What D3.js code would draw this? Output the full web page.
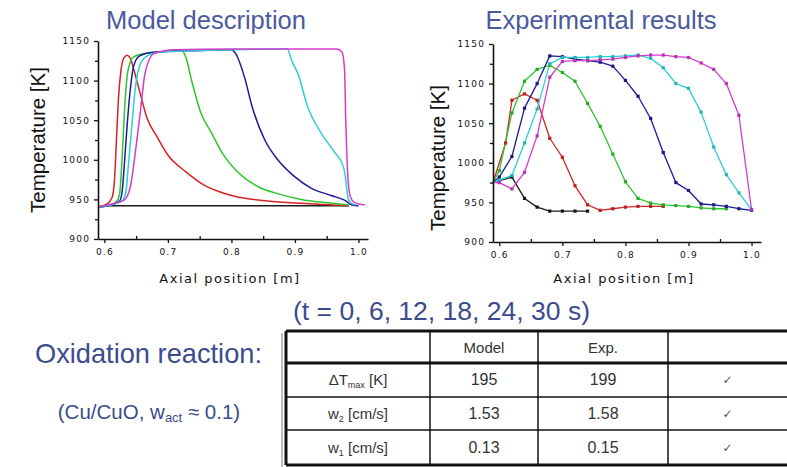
<!DOCTYPE html>
<html><head><meta charset="utf-8">
<script src="https://cdn.jsdelivr.net/npm/d3@7"></script>
<style>body{margin:0;background:#fff} svg{display:block}</style>
</head><body><svg id="c" width="787" height="467"></svg>
<script>
// ---------- DATA ----------
const times = [0, 6, 12, 18, 24, 30];
const seriesColors = ["#1a1a1a", "#d42424", "#2fc52f", "#1c1c96", "#2ccfd8", "#d23ccb"];
const xTicks = [0.6, 0.7, 0.8, 0.9, 1.0];
const xMinor = [0.65, 0.75, 0.85, 0.95];
const yTicks = [900, 950, 1000, 1050, 1100, 1150];
const yMinor = [925, 975, 1025, 1075, 1125];

// Model description (axial position [m], temperature [K])
const modelT0 = [[0.59,940.5],[0.61,942],[0.985,942]];
const modelT6 = [[0.59,940.5],[0.604,944],[0.612,952],[0.616,975],[0.619,1024],[0.622,1075],[0.626,1112],[0.631,1129],[0.636,1132],[0.641,1128],[0.646,1115],[0.657,1082],[0.667,1053],[0.683,1029],[0.70,1006],[0.728,985],[0.755,969],[0.78,960],[0.805,954],[0.857,948],[0.91,945],[0.96,943],[0.985,942]];
const modelT12 = [[0.59,940.5],[0.61,943],[0.62,948],[0.624,957],[0.628,1003],[0.632,1066],[0.637,1112],[0.646,1130],[0.662,1134],[0.70,1137],[0.722,1138],[0.728,1130],[0.738,1098],[0.752,1059],[0.768,1035],[0.786,1008],[0.812,983],[0.842,966],[0.874,957],[0.91,950],[0.947,946],[0.985,943]];
const modelT18 = [[0.59,940.5],[0.61,943],[0.624,948],[0.628,960],[0.632,1000],[0.636,1045],[0.641,1090],[0.646,1118],[0.655,1131],[0.68,1136],[0.75,1138],[0.80,1139],[0.806,1135],[0.82,1106],[0.833,1066],[0.852,1026],[0.873,1000],[0.899,979],[0.926,964],[0.957,955],[0.978,949],[0.99,943],[1.0,942]];
const modelT24 = [[0.59,940.5],[0.61,943],[0.628,948],[0.634,960],[0.638,995],[0.643,1040],[0.648,1085],[0.654,1115],[0.665,1130],[0.69,1136],[0.80,1139],[0.888,1140],[0.895,1125],[0.905,1108],[0.92,1067],[0.941,1034],[0.963,1009],[0.976,992],[0.98,975],[0.983,954],[0.987,946],[0.995,943]];
const modelT30 = [[0.59,940.5],[0.61,944],[0.631,949],[0.641,966],[0.649,1011],[0.657,1063],[0.664,1109],[0.678,1134],[0.71,1139],[0.80,1140],[0.966,1140],[0.974,1136],[0.978,1115],[0.98,1050],[0.983,983],[0.987,954],[0.994,946],[1.01,943]];

// Experimental results
const expT0 = [[0.59,975],[0.62,982],[0.64,955],[0.66,944],[0.68,939],[0.70,939],[0.72,939],[0.74,939]];
const expT6 = [[0.59,975],[0.61,1025],[0.62,1079],[0.64,1087],[0.66,1079],[0.68,1031],[0.70,1007],[0.72,971],[0.74,947],[0.76,940],[0.78,942],[0.80,944],[0.82,945],[0.84,945],[0.86,945]];
const expT12 = [[0.59,975],[0.60,990],[0.62,1063],[0.64,1103],[0.66,1118],[0.68,1123],[0.70,1114],[0.72,1103],[0.74,1075],[0.76,1046],[0.78,1011],[0.80,976],[0.82,955],[0.84,949],[0.86,947],[0.88,946],[0.90,945],[0.92,943],[0.94,942],[0.96,942]];
const expT18 = [[0.59,975],[0.60,982],[0.62,1008],[0.64,1069],[0.66,1100],[0.68,1135],[0.70,1134],[0.72,1131],[0.74,1129],[0.76,1127],[0.78,1122],[0.80,1104],[0.82,1084],[0.84,1056],[0.86,1013],[0.88,975],[0.90,965],[0.92,948],[0.94,947],[0.96,945],[0.98,942],[1.00,940]];
const expT24 = [[0.59,975],[0.60,978],[0.62,984],[0.64,1025],[0.66,1068],[0.68,1125],[0.70,1133],[0.72,1133],[0.74,1133],[0.76,1134],[0.78,1134],[0.80,1135],[0.82,1136],[0.84,1132],[0.86,1120],[0.88,1100],[0.90,1094],[0.92,1064],[0.94,1020],[0.96,985],[0.98,962],[1.00,941]];
const expT30 = [[0.59,975],[0.60,975],[0.62,967],[0.64,988],[0.66,1034],[0.68,1108],[0.70,1128],[0.72,1129],[0.74,1129],[0.76,1130],[0.78,1131],[0.80,1133],[0.82,1135],[0.84,1136],[0.86,1136],[0.88,1134],[0.90,1133],[0.92,1126],[0.94,1118],[0.96,1100],[0.98,1060],[1.00,941]];

// Table
const tableHeaders = ["", "Model", "Exp.", ""];
const rowLabels = [["ΔT","max"," [K]"], ["w","2"," [cm/s]"], ["w","1"," [cm/s]"]];
const modelValues = ["195", "1.53", "0.13"];
const expValues = ["199", "1.58", "0.15"];
const agreement = ["✓", "✓", "✓"];

// ---------- DRAW ----------
const svg = d3.select("#c");
const modelSeries = [modelT0, modelT6, modelT12, modelT18, modelT24, modelT30];
const expSeries = [expT0, expT6, expT12, expT18, expT24, expT30];

function drawPanel(cfg) {
  const x = d3.scaleLinear().domain([0.59, 1.015]).range([cfg.x0, cfg.x1]);
  const y = d3.scaleLinear().domain([900, 1150]).range([cfg.y0, cfg.y1]);
  const g = svg.append("g");

  // title
  g.append("text").attr("x", cfg.titleX).attr("y", 29).attr("text-anchor", "middle")
    .attr("font-family", "Liberation Sans, Arial, sans-serif").attr("font-size", 25.5)
    .attr("fill", "#4a5a9e").text(cfg.title);

  // lines
  const line = d3.line().x(d => x(d[0])).y(d => y(d[1]))
    .curve(cfg.smooth ? d3.curveMonotoneX : d3.curveLinear);
  cfg.series.forEach((s, i) => {
    g.append("path").datum(s).attr("d", line).attr("fill", "none")
      .attr("stroke", seriesColors[i]).attr("stroke-width", cfg.smooth ? 1.5 : 1.3)
      .attr("stroke-linejoin", "round");
  });
  if (!cfg.smooth) {
    cfg.series.forEach((s, i) => {
      g.append("g").selectAll("rect").data(s.slice(1)).join("rect")
        .attr("x", d => x(d[0]) - 1.6).attr("y", d => y(d[1]) - 1.6)
        .attr("width", 3.2).attr("height", 3.2).attr("fill", d3.color(seriesColors[i]).darker(0.4));
    });
  }

  // axes
  const ax = g.append("g").attr("transform", `translate(0,${cfg.y0})`)
    .call(d3.axisBottom(x).tickValues(xTicks).tickSize(4).tickSizeOuter(0).tickFormat(d3.format(".1f")));
  g.append("g").attr("transform", `translate(0,${cfg.y0})`)
    .call(d3.axisTop(x).tickValues(xMinor).tickSize(3).tickSizeOuter(0).tickFormat(""))
    .select(".domain").remove();
  const ay = g.append("g").attr("transform", `translate(${cfg.x0},0)`)
    .call(d3.axisLeft(y).tickValues(yTicks).tickSize(4).tickSizeOuter(0).tickFormat(d3.format("d")));
  g.append("g").attr("transform", `translate(${cfg.x0},0)`)
    .call(d3.axisLeft(y).tickValues(yMinor).tickSize(3).tickSizeOuter(0).tickFormat(""))
    .select(".domain").remove();
  g.selectAll(".domain").attr("stroke", "#111").attr("stroke-width", 1.6);
  g.selectAll(".tick line").attr("stroke", "#111").attr("stroke-width", 1.3);
  [ax, ay].forEach(a => a.selectAll("text")
    .attr("font-family", "DejaVu Sans, Verdana, sans-serif").attr("font-size", 9)
    .attr("letter-spacing", "1.2px").attr("fill", "#111"));
  ax.selectAll("text").attr("dy", "1.05em");
  ay.selectAll("text").attr("dx", "-0.1em");

  // axis titles
  g.append("text").attr("x", cfg.xLabelX).attr("y", 283).attr("text-anchor", "middle")
    .attr("font-family", "DejaVu Sans, Verdana, sans-serif").attr("font-size", 13)
    .attr("letter-spacing", "1.5px").attr("fill", "#111").text("Axial position [m]");
  g.append("text").attr("transform", `translate(${cfg.yLabelX},${cfg.yLabelY}) rotate(-90)`)
    .attr("text-anchor", "middle").attr("dominant-baseline", "central")
    .attr("font-family", "Liberation Sans, Arial, sans-serif").attr("font-size", 20.5)
    .attr("fill", "#111").text("Temperature [K]");
}

drawPanel({x0: 98, x1: 368, y0: 239, y1: 41, series: modelSeries, smooth: true,
  title: "Model description", titleX: 206, xLabelX: 230, yLabelX: 37, yLabelY: 140});
drawPanel({x0: 493, x1: 761, y0: 242, y1: 44, series: expSeries, smooth: false,
  title: "Experimental results", titleX: 601, xLabelX: 624, yLabelX: 437, yLabelY: 158});

// bottom texts
const blue = "#3c4b8e";
svg.append("text").attr("x", 293).attr("y", 320)
  .attr("font-family", "Liberation Sans, Arial, sans-serif").attr("font-size", 25)
  .attr("textLength", 297).attr("lengthAdjust", "spacingAndGlyphs")
  .attr("fill", blue).text("(t = " + times.join(", ") + " s)");
svg.append("text").attr("x", 35).attr("y", 363)
  .attr("font-family", "Liberation Sans, Arial, sans-serif").attr("font-size", 28)
  .attr("textLength", 227).attr("lengthAdjust", "spacingAndGlyphs")
  .attr("fill", blue).text("Oxidation reaction:");
const cu = svg.append("text").attr("x", 149).attr("y", 419).attr("text-anchor", "middle")
  .attr("font-family", "Liberation Sans, Arial, sans-serif").attr("font-size", 20.5).attr("fill", blue);
cu.append("tspan").text("(Cu/CuO,  w");
cu.append("tspan").attr("font-size", 13).attr("dy", 3).text("act");
cu.append("tspan").attr("dy", -3).text(" ≈ 0.1)");

// table
const colX = [286, 430, 538, 668, 790];
const rowY = [331, 363, 397, 430, 465];
const tg = svg.append("g");
// shadow
tg.append("line").attr("x1", 282).attr("x2", 282).attr("y1", rowY[0] + 2).attr("y2", 467)
  .attr("stroke", "#aaa").attr("stroke-width", 1.5);
// horizontal lines
rowY.forEach((yy, i) => {
  tg.append("line").attr("x1", colX[0]).attr("x2", 790).attr("y1", yy).attr("y2", yy)
    .attr("stroke", "#111").attr("stroke-width", (i === 0 || i === 1 || i === 4) ? 3 : 1.5);
});
colX.slice(0, 4).forEach((xx, i) => {
  tg.append("line").attr("x1", xx).attr("x2", xx).attr("y1", rowY[0]).attr("y2", rowY[4])
    .attr("stroke", "#111").attr("stroke-width", i === 0 ? 3 : 1.5);
});
const colC = [0, 1, 2, 3].map(i => (colX[i] + Math.min(colX[i + 1], 787)) / 2);
const rowC = [0, 1, 2, 3].map(i => (rowY[i] + rowY[i + 1]) / 2);
const tfont = "Liberation Sans, Arial, sans-serif";
tableHeaders.forEach((h, i) => {
  tg.append("text").attr("x", colC[i]).attr("y", rowC[0]).attr("text-anchor", "middle")
    .attr("dominant-baseline", "central").attr("font-family", tfont).attr("font-size", 15)
    .attr("fill", "#333").text(h);
});
rowLabels.forEach((lab, r) => {
  const t = tg.append("text").attr("x", colC[0]).attr("y", rowC[r + 1] + 5).attr("text-anchor", "middle")
    .attr("font-family", tfont).attr("font-size", 15).attr("fill", "#333");
  t.append("tspan").text(lab[0]);
  t.append("tspan").attr("font-size", 9).attr("dy", 3).text(lab[1]);
  t.append("tspan").attr("dy", -3).text(lab[2]);
  [modelValues[r], expValues[r]].forEach((v, c) => {
    tg.append("text").attr("x", colC[c + 1]).attr("y", rowC[r + 1] + 5).attr("text-anchor", "middle")
      .attr("font-family", tfont).attr("font-size", 16).attr("fill", "#333").text(v);
  });
  tg.append("text").attr("x", colC[3]).attr("y", rowC[r + 1] + 4).attr("text-anchor", "middle")
    .attr("font-family", "DejaVu Sans, sans-serif").attr("font-size", 12).attr("fill", "#555").text(agreement[r]);
});
</script></body></html>
